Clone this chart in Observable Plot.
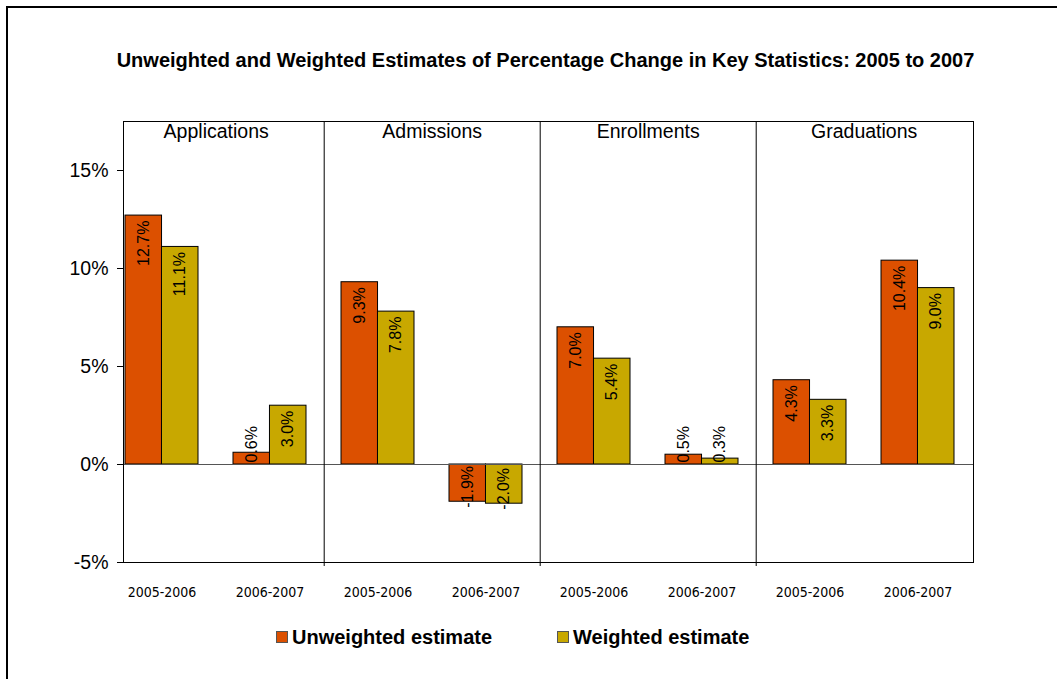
<!DOCTYPE html>
<html>
<head>
<meta charset="utf-8">
<script src="https://cdn.jsdelivr.net/npm/d3@7"></script>
<script src="https://cdn.jsdelivr.net/npm/@observablehq/plot@0.6"></script>
<style>
  html, body { margin: 0; padding: 0; background: white; }
  body { width: 1057px; height: 679px; position: relative; overflow: hidden; font-family: "Liberation Sans", Arial, sans-serif; }
  #border { position: absolute; z-index: 5; left: 6px; top: 6px; width: 1200px; height: 900px; border-left: 2px solid black; border-top: 2px solid black; pointer-events: none; }
  #title { position: absolute; left: 0; top: 0; width: 1057px; height: 100px; box-sizing: border-box; padding-left: 34px; text-align: center; line-height: 120px; font-weight: bold; font-size: 20px; }
  #chart { position: absolute; left: 0; top: 100px; }
  #legend { position: absolute; left: 0; top: 625px; width: 1057px; height: 24px; font-weight: bold; font-size: 20px; }
  .item { position: absolute; top: 0; height: 24px; line-height: 24px; white-space: nowrap; }
  .sw { position: absolute; top: 6px; width: 10px; height: 10px; border: 1px solid #555; }
  #chart g[aria-label^="x-axis"] text { font-family: "Liberation Sans Narrow", "Arial Narrow", "DejaVu Sans Condensed", sans-serif; font-size: 14px; }
  #chart g[aria-label^="y-axis"] text { font-size: 19.5px; }
</style>
</head>
<body>
<div id="border"></div>
<div id="title">Unweighted and Weighted Estimates of Percentage Change in Key Statistics: 2005 to 2007</div>
<div id="chart"></div>
<div id="legend"></div>
<script>
const metrics = ["Applications", "Admissions", "Enrollments", "Graduations"];
const periods = ["2005-2006", "2006-2007"];
const seriesNames = ["Unweighted estimate", "Weighted estimate"];
const seriesColors = ["#DC5000", "#C8A800"];
const yTicks = [-5, 0, 5, 10, 15];
// values in order: Applications 05-06, 06-07, Admissions..., Enrollments..., Graduations...
const unweighted = [12.7, 0.6, 9.3, -1.9, 7.0, 0.5, 4.3, 10.4];
const weighted = [11.1, 3.0, 7.8, -2.0, 5.4, 0.3, 3.3, 9.0];

const key = (m, p) => m + "|" + p;
const keys = [];
const rows = [];
metrics.forEach((m, i) => periods.forEach((p, j) => {
  keys.push(key(m, p));
  rows.push({metric: m, period: p, key: key(m, p), series: seriesNames[0], value: unweighted[i * 2 + j]});
  rows.push({metric: m, period: p, key: key(m, p), series: seriesNames[1], value: weighted[i * 2 + j]});
}));
const uRows = rows.filter(d => d.series === seriesNames[0]);
const wRows = rows.filter(d => d.series === seriesNames[1]);

const W = 1057, mL = 123, mR = 84;
// the category axis starts a little left of the value axis (as in the original chart)
const xRange = [106, W - mR];
const pInner = 0.327, pOuter = pInner / 2;
const step = (xRange[1] - xRange[0]) / (keys.length - pInner + 2 * pOuter);
const half = step * (1 - pInner) / 2;
const fmt = d => d.value.toFixed(1) + "%";

function labelMarks(data, dx) {
  const common = {x: "key", text: fmt, rotate: -90, dx, fontSize: 16, fill: "black"};
  return [
    Plot.text(data.filter(d => d.value >= 1), {...common, y: "value", textAnchor: "end", dy: 5}),
    Plot.text(data.filter(d => d.value >= 0 && d.value < 1), {...common, y: d => 0, textAnchor: "start", dy: -2}),
    Plot.text(data.filter(d => d.value < 0), {...common, y: "value", textAnchor: "start", dy: 6})
  ];
}

// last period of each metric (divider drawn after it, except the final one)
const dividerKeys = metrics.slice(0, -1).map(m => key(m, periods[periods.length - 1]));
const firstKeys = metrics.map(m => key(m, periods[0]));

const chart = Plot.plot({
  width: W,
  height: 510,
  marginLeft: mL,
  marginRight: mR,
  marginTop: 21,
  marginBottom: 48,
  style: {fontFamily: "'Liberation Sans', Arial, sans-serif", fontSize: "16px", background: "transparent", color: "black", overflow: "visible"},
  x: {domain: keys, range: xRange, paddingInner: pInner, paddingOuter: pOuter, tickSize: 0, tickPadding: 25, tickFormat: k => k.split("|")[1], label: null},
  y: {domain: [-5, 17.5], ticks: yTicks, tickFormat: d => d + "%", tickSize: 6, tickPadding: 9, label: null},
  color: {domain: seriesNames, range: seriesColors},
  marks: [
    Plot.barY(uRows, {x: "key", y: "value", fill: "series", stroke: "black", strokeWidth: 1, insetRight: half}),
    Plot.barY(wRows, {x: "key", y: "value", fill: "series", stroke: "black", strokeWidth: 1, insetLeft: half}),
    Plot.ruleY([0], {stroke: "#555", strokeWidth: 1}),
    ...labelMarks(uRows, -half / 2),
    ...labelMarks(wRows, half / 2),
    Plot.ruleX(dividerKeys, {x: d => d, dx: step / 2, stroke: "black", strokeWidth: 1, insetBottom: -4}),
    Plot.text(metrics, {x: (d, i) => firstKeys[i], dx: step / 2, text: d => d, frameAnchor: "top", dy: 3, fontSize: 19.5, fill: "black"}),
    Plot.frame({stroke: "black", strokeWidth: 1})
  ]
});
document.getElementById("chart").appendChild(chart);

const legend = document.getElementById("legend");
const legendX = [276, 557];
seriesNames.forEach((s, i) => {
  const item = document.createElement("div");
  item.className = "item";
  item.style.left = legendX[i] + "px";
  const sw = document.createElement("span");
  sw.className = "sw";
  sw.style.left = "0px";
  sw.style.background = seriesColors[i];
  const t = document.createElement("span");
  t.textContent = s;
  t.style.marginLeft = "16px";
  item.appendChild(sw);
  item.appendChild(t);
  legend.appendChild(item);
});
</script>
</body>
</html>
